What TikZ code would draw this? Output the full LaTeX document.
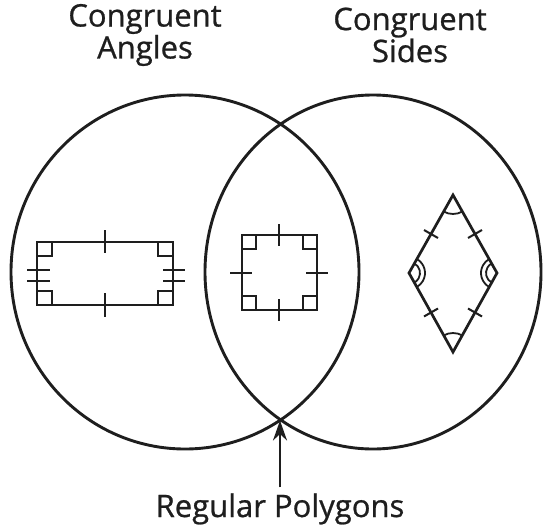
\documentclass[tikz,border=0pt]{standalone}
\usepackage{fontspec}
\setmainfont{Open Sans}[FakeBold=0.8]
\usetikzlibrary{arrows.meta}
\definecolor{ink}{HTML}{1E1E1E}

\begin{document}
\begin{tikzpicture}[x=1pt, y=-1pt, ring/.style={draw=ink, line width=2.9pt}, outline/.style={draw=ink, line width=2.7pt}, tickmark/.style={draw=ink, line width=2pt}, cornerbox/.style={draw=ink, line width=1.8pt}, heading/.style={text=ink, inner sep=0pt, align=center, font=\fontsize{31}{26}\selectfont}, pointer/.style={-{Stealth[length=20pt,width=14pt]}, draw=ink, line width=2.4pt}]
\useasboundingbox (0,0) rectangle (543,527);
\fill[white] (0,0) rectangle (543,527);
\draw[ring] (185,272) ellipse [x radius=174, y radius=177];
\draw[ring] (373,272) ellipse [x radius=168, y radius=177];
\node[heading] (angles) at (145,35) {Congruent\\Angles};
\node[heading] (sides) at (410,35) {Congruent\\Sides};
\node[heading, anchor=base, outer ysep=6pt] (regular) at (280,517) {Regular Polygons};
\coordinate (meet) at (280,420.5);
\draw[pointer] (regular.north) -- (meet);
% rectangle: congruent angles only
\draw[outline] (37,242) rectangle (173,305);
\draw[cornerbox] (37,242) rectangle (52,256) (37,305) rectangle (52,291) (173,242) rectangle (158,256) (173,305) rectangle (158,291);
\draw[tickmark] (105,230) -- (105,253) (105,293) -- (105,317);
\draw[tickmark] (27,270) -- (50,270) (27,281) -- (50,281) (163,270) -- (185,270) (163,281) -- (185,281);
% square: both
\draw[outline] (242,235) rectangle (317,310);
\draw[cornerbox] (242,235) rectangle (256,249) (317,235) rectangle (303,249) (242,310) rectangle (256,296) (317,310) rectangle (303,296);
\draw[tickmark] (279,224) -- (279,246) (279,299) -- (279,321) (230,273) -- (252,273) (306,273) -- (328,273);
% rhombus: congruent sides only
\draw[outline, line join=miter] (453,195) -- (497,273) -- (453,352) -- (409,273) -- cycle;
\draw[tickmark] (424,230) -- (438,238) (468,238) -- (482,230) (424,316.5) -- (438,308.5) (468,308.5) -- (482,316.5);
\draw[cornerbox] ([shift={(60.6:19)}]453,195) arc[start angle=60.6, end angle=119.4, radius=19];
\draw[cornerbox] ([shift={(-119.4:19)}]453,352) arc[start angle=-119.4, end angle=-60.6, radius=19];
\draw[cornerbox] ([shift={(-60.6:11)}]409,273) arc[start angle=-60.6, end angle=60.6, radius=11] ([shift={(-60.6:16)}]409,273) arc[start angle=-60.6, end angle=60.6, radius=16];
\draw[cornerbox] ([shift={(119.4:11)}]497,273) arc[start angle=119.4, end angle=240.6, radius=11] ([shift={(119.4:16)}]497,273) arc[start angle=119.4, end angle=240.6, radius=16];
\end{tikzpicture}
\end{document}
